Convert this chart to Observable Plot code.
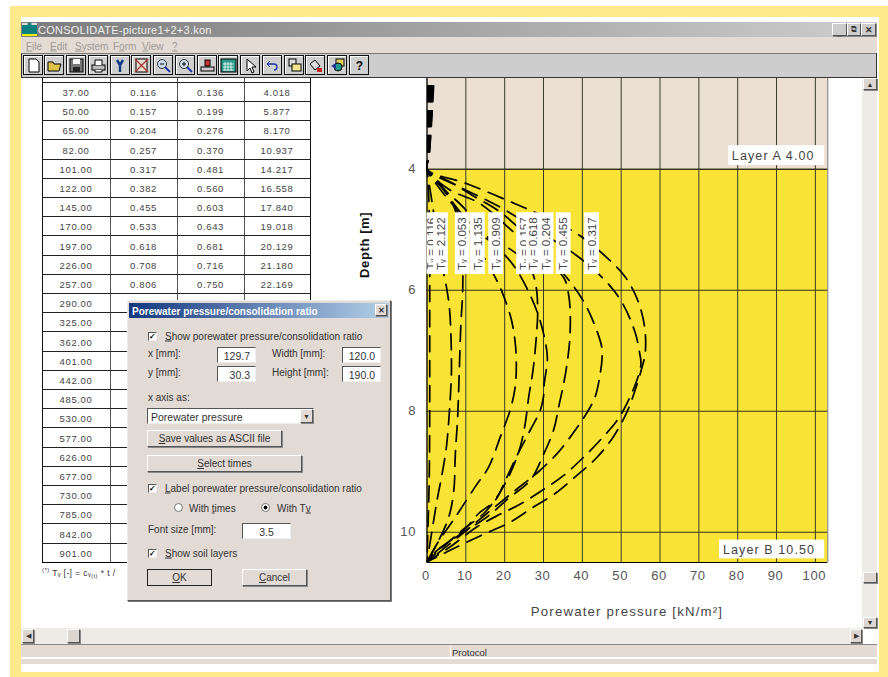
<!DOCTYPE html>
<html><head><meta charset="utf-8">
<script src="https://cdn.jsdelivr.net/npm/d3@7"></script>
<script src="https://cdn.jsdelivr.net/npm/@observablehq/plot@0.6"></script>
<style>
html,body{margin:0;padding:0;background:#fff;width:888px;height:677px;overflow:hidden;font-family:"Liberation Sans",Arial,sans-serif}
.a{position:absolute;box-sizing:border-box;white-space:nowrap}
.t{position:absolute;white-space:nowrap;font-size:10px;color:#333;transform:translateY(-50%)}
.btn{position:absolute;box-sizing:border-box;background:#e2dad4;border:1px solid;border-color:#fff #555 #555 #fff;box-shadow:1px 1px 0 #888;font-size:10px;color:#333;text-align:center;display:flex;align-items:center;justify-content:center}
.inp{position:absolute;box-sizing:border-box;background:#fff;border:1px solid;border-color:#555 #eee #eee #555;font-size:10.5px;color:#333;text-align:right;padding:2px 5px 0 0}
.cb{position:absolute;box-sizing:border-box;width:9px;height:9px;background:#fff;border:1px solid;border-color:#555 #eee #eee #555;font-size:8px;line-height:7px;text-align:center;color:#000;font-weight:bold}
.tool{position:absolute;top:55px;width:20px;height:20px;box-sizing:border-box;background:#cfcfcf;border:1px solid #111;box-shadow:inset 1px 1px 0 #fff}
.tool svg{position:absolute;left:1px;top:1px}
.cell{position:absolute;font-size:9.5px;letter-spacing:.65px;color:#444;text-align:center;transform:translateY(-50%)}
.chart{position:absolute;left:0;top:0;background:transparent;overflow:visible}
.chart text{letter-spacing:.6px}
.chart g[font-size="11.5"] text{letter-spacing:0}
.chart g[font-size="12.5"] text{letter-spacing:1.1px}
.chart g[font-size="13.2"] text{letter-spacing:1.2px}
u{text-decoration:underline}
</style></head><body>
<div id="root"></div>
<script>
// ---------- table values ----------
const times = [37,50,65,82,101,122,145,170,197,226,257,290,325,362,401,442,485,530,577,626,677,730,785,842,901];
const tvValues = [0.116,0.157,0.204,0.257,0.317,0.382,0.455,0.533,0.618,0.708,0.806];
const consolidation = [0.136,0.199,0.276,0.370,0.481,0.560,0.603,0.643,0.681,0.716,0.750];
const settlement = [4.018,5.877,8.170,10.937,14.217,16.558,17.840,19.018,20.129,21.180,22.169];

// ---------- chart: isochrones as [pressure kN/m², depth m] ----------
const isoA = [[0.2,2.62],[0.2,3.2],[0.1,3.8],[0,4],[0.1,4.1],[0.4,4.38],[0.7,5.2],[0.7,6],[0.7,7],[0.7,8],[0.6,9],[0.4,9.6],[0.2,10],[0,10.49]];
const isoB = [[0.4,2.62],[0.3,3.2],[0.1,3.8],[0,4],[0.9,4.38],[1.7,4.71],[3.4,5.43],[5.1,5.98],[5.8,6.31],[6.2,6.81],[6.3,7.3],[6.2,7.54],[5.8,7.98],[5,8.59],[3.9,9.03],[2.6,9.47],[1.3,9.97],[0,10.49]];
const isoC = [[0.6,2.62],[0.4,3.2],[0.2,3.8],[0,4],[3,4.21],[7.3,4.68],[9,5.32],[9.2,5.98],[8.7,6.59],[8.3,7.36],[7.9,8.09],[7.3,8.7],[6.9,9.31],[5.6,9.75],[2.6,10.19],[0,10.49]];
const isoD = [[0.8,2.62],[0.6,3.2],[0.3,3.8],[0,4],[3.4,4.33],[7.7,4.68],[12.9,5.26],[18,5.84],[19.7,6.09],[21.7,6.48],[22.7,6.86],[23,7.2],[22.7,7.6],[21.4,7.98],[18.9,8.42],[15.9,8.92],[12.4,9.25],[7.3,9.75],[2.6,10.19],[0,10.49]];
const isoE = [[1,2.62],[0.7,3.2],[0.3,3.8],[0,4],[3.4,4.27],[8.6,4.71],[15.4,5.15],[21.4,5.32],[26.2,5.59],[27.9,5.87],[28.5,6.31],[28.1,6.81],[27.3,7.32],[26.2,7.76],[25.3,8.2],[24,8.59],[21.4,9.03],[18,9.42],[14.6,9.69],[9.4,9.95],[4,10.25],[0,10.49]];
const isoF = [[1.1,2.62],[0.8,3.2],[0.4,3.8],[0,4],[4.7,4.35],[9.4,4.63],[15.4,5.1],[22.3,5.59],[26.2,6.03],[28.7,6.42],[30.5,6.86],[31,7.14],[30.2,7.54],[30,7.76],[29.2,7.98],[26.6,8.31],[23.2,8.73],[20.2,9.14],[17.6,9.47],[13.3,9.69],[9.4,9.97],[1.7,10.35],[0,10.49]];
const isoG = [[1.3,2.62],[0.9,3.2],[0.4,3.8],[0,4],[5.6,4.33],[13.7,4.57],[22.3,5.04],[29.2,5.43],[35.2,5.79],[36.5,6.09],[36.9,6.42],[36.7,6.86],[36,7.24],[35.2,7.54],[34.1,7.87],[32.6,8.31],[29.9,8.73],[26.6,9.14],[21,9.44],[15.4,9.75],[9.4,10],[2.6,10.3],[0,10.49]];
const isoH = [[1.4,2.62],[1,3.2],[0.4,3.8],[0,4],[6,4.21],[12.4,4.46],[18.9,4.71],[27.5,5.21],[35.6,5.76],[39.9,6.14],[42.9,6.53],[45,6.94],[45.1,7.1],[44.6,7.38],[43.3,7.76],[41.6,7.98],[38.2,8.31],[33.5,8.7],[28.7,9],[22.7,9.31],[15.4,9.69],[8.6,10.05],[0,10.49]];
const isoI = [[1.6,2.62],[1.1,3.2],[0.5,3.8],[0,4],[7.7,4.27],[18.9,4.63],[29.2,5.04],[38.6,5.43],[45.9,5.84],[50.2,6.2],[53.6,6.7],[54.7,7.02],[55.1,7.21],[54.2,7.46],[52.3,7.76],[49.3,8.12],[45,8.45],[40.3,8.76],[35.2,9.06],[29.6,9.31],[23.6,9.55],[18.9,9.7],[12.9,9.91],[6,10.24],[0,10.49]];
const isoJ = [[1.7,2.62],[1.2,3.2],[0.5,3.8],[0,4],[10.3,4.24],[22.7,4.57],[33.5,4.88],[39.9,5.12],[46.3,5.46],[50.8,5.76],[54.1,6.14],[56,6.59],[56.2,7.03],[55.3,7.29],[53.6,7.65],[51.5,8.01],[48,8.42],[43.8,8.76],[38.6,9.06],[33,9.36],[27.5,9.58],[21.5,9.83],[15.4,10.01],[9.4,10.19],[0,10.49]];
const isochrones = [isoA,isoB,isoC,isoD,isoE,isoF,isoG,isoH,isoI,isoJ];

// curve labels, in drawing order
const labelTexts = ["0.116","2.122","0.053","1.135","0.909","0.157","0.618","0.204","0.455","0.317"];
const labelCentres = [1.0,3.6,9.2,13.1,17.8,25,27.5,30.8,35.2,42.5];

const layerNames = ["Layer A 4.00","Layer B 10.50"];
const layerTops = [2.5,4];
const layerBottoms = [4,10.5];
const layerFills = ["#ebded3","#f9e335"];
const xTicks = [0,10,20,30,40,50,60,70,80,90,100];
const yTicks = [4,6,8,10];

const labelDepth = [4.72,5.74];
const xy = d=>d[0], yy = d=>d[1];
const ink="#555";

const labelMarks = labelTexts.flatMap((s,i)=>[
  Plot.rect([i],{x1:()=>Math.max(0,labelCentres[i]-1.9),x2:()=>labelCentres[i]+1.9,y1:()=>labelDepth[0],y2:()=>labelDepth[1],fill:"#fff"}),
  Plot.text([i],{x:()=>labelCentres[i],y:()=>5.23,text:()=>"T\u1D65 = "+s,rotate:-90,fontSize:11.5,fill:"#444",textAnchor:"middle",clip:true})
]);

const chart = Plot.plot({
  width:888,height:677,
  marginLeft:426.5,marginRight:60.7,marginTop:78,marginBottom:115,
  className:"chart",
  style:{background:"transparent",fontFamily:"'Liberation Sans',Arial,sans-serif"},
  x:{domain:[0,103.2],range:[426.5,827.3]},
  y:{domain:[2.5,10.5],range:[78,562]},
  marks:[
    Plot.rect(layerTops,{x1:()=>0,x2:()=>103.2,y1:d=>d,y2:(d,i)=>layerBottoms[i],fill:(d,i)=>layerFills[i]}),
    Plot.ruleX(xTicks,{stroke:"#3a3a2c",strokeWidth:1}),
    Plot.ruleX([103.2],{stroke:"#777",strokeWidth:1}),
    Plot.ruleY(yTicks,{stroke:"#33321f",strokeWidth:1}),
    Plot.ruleY([10.5],{stroke:"#000",strokeWidth:1.2}),
    Plot.ruleX([0],{stroke:"#111",strokeWidth:1}),
    Plot.ruleY([4],{stroke:"#222",strokeWidth:1}),
    ...isochrones.map(c=>Plot.line(c,{x:xy,y:yy,stroke:"#000",strokeWidth:1.7,strokeDasharray:"16,9",curve:"catmull-rom",clip:true})),
    ...labelMarks,
    Plot.rect([0],{x1:()=>77.7,x2:()=>102.4,y1:()=>3.61,y2:()=>3.94,fill:"#fff"}),
    Plot.text([0],{x:()=>78.5,y:()=>3.78,text:()=>layerNames[0],textAnchor:"start",fontSize:12.5,fill:"#444"}),
    Plot.rect([0],{x1:()=>75.3,x2:()=>102.4,y1:()=>10.13,y2:()=>10.44,fill:"#fff"}),
    Plot.text([0],{x:()=>76.2,y:()=>10.29,text:()=>layerNames[1],textAnchor:"start",fontSize:12.5,fill:"#444"}),
    Plot.axisX({ticks:xTicks,tickSize:0,tickPadding:8,fontSize:13,fill:ink,label:null,dx:-1}),
    Plot.axisY({ticks:yTicks,tickSize:0,tickPadding:11,fontSize:13,fill:ink,label:null,anchor:"left"}),
    Plot.text([0],{x:()=>51.5,y:()=>10.5,dy:49,text:()=>"Porewater pressure [kN/m²]",fontSize:13.2,fill:"#444"}),
    Plot.text([0],{x:()=>0,y:()=>5.25,dx:-62.5,rotate:-90,text:()=>"Depth [m]",fontSize:13,fontWeight:"bold",fill:"#111"})
  ]
});

// ---------- window chrome ----------
const root=document.getElementById("root");
function box(l,t,w,h,css,html){const e=document.createElement("div");e.className="a";e.style.cssText=`left:${l}px;top:${t}px;width:${w}px;height:${h}px;${css||""}`;if(html)e.innerHTML=html;root.appendChild(e);return e;}
function text(l,cy,s,css){const e=document.createElement("div");e.className="t";e.style.cssText=`left:${l}px;top:${cy}px;${css||""}`;e.innerHTML=s;root.appendChild(e);return e;}
function button(l,t,w,h,s,css){const e=document.createElement("div");e.className="btn";e.style.cssText=`left:${l}px;top:${t}px;width:${w}px;height:${h}px;${css||""}`;e.innerHTML=s;root.appendChild(e);return e;}
function input(l,t,w,h,s,css){const e=document.createElement("div");e.className="inp";e.style.cssText=`left:${l}px;top:${t}px;width:${w}px;height:${h}px;${css||""}`;e.textContent=s;root.appendChild(e);}
function check(l,cy){const e=document.createElement("div");e.className="cb";e.style.cssText=`left:${l}px;top:${cy-4.5}px`;e.textContent="✓";root.appendChild(e);}

const frame="#fbe98c";
box(10,6,878,671,`background:${frame}`);
box(21,17,858,655,"background:#fff");

// table (behind the chart layer and the dialog)
const colX=[42,110,177,244,310];
const rowTop=82.3,rowH=19.2,tableBottom=rowTop+rowH*times.length;
colX.forEach((x,i)=>box(x-.5,78,i==4?1.6:1,i==4?222:tableBottom-78,`background:${i==0||i==4?"#111":"#555"}`));
for(let i=0;i<=times.length;i++){box(42,rowTop+i*rowH-.5,268,1,`background:${i==times.length?"#000":"#222"}`);}
times.forEach((tm,i)=>{
  const cy=rowTop+rowH*(i+.5);
  const vals=[tm.toFixed(2),i<tvValues.length?tvValues[i].toFixed(3):"",i<consolidation.length?consolidation[i].toFixed(3):"",i<settlement.length?settlement[i].toFixed(3):""];
  vals.forEach((v,j)=>{const e=document.createElement("div");e.className="cell";e.style.cssText=`left:${colX[j]}px;width:${colX[j+1]-colX[j]}px;top:${cy}px`;e.textContent=v;root.appendChild(e);});
});
text(42,573,"<sup style='font-size:6px'>(*)</sup> T\u1D65 [-] = c\u1D65<sub style='font-size:6px'>(t)</sub> * t /","font-size:8.5px;letter-spacing:.4px");

root.appendChild(chart);

// title bar, menu, toolbar
box(21,22,856,15,"background:linear-gradient(90deg,#7c7c7c,#cdcdcd)");
box(22,23,15,13,"background:#0d7f7f;border-top:2px dashed #ddd;border-bottom:2px solid #ee0");
text(38,29.5,"CONSOLIDATE-picture1+2+3.kon","color:#eeeeee;font-size:11px;letter-spacing:.25px");
button(832,23,15,13,"<span style='margin-top:6px;font-weight:bold;font-size:9px'>_</span>","background:#ccc");
button(847,23,14,13,"<span style='font-size:8px'>&#x29C9;</span>","background:#ccc");
button(861,23,15,13,"<b style='font-size:9px'>✕</b>","background:#ccc");
box(21,37,856,16,"background:#e4dbd5");
[["<u>F</u>ile",26],["<u>E</u>dit",50],["<u>S</u>ystem",75],["F<u>o</u>rm",113],["<u>V</u>iew",142],["<u>?</u>",172]].forEach(([s,x])=>text(x,45.5,s,"font-size:10px;color:#a09a96"));
box(21,53,856,24.5,"background:#cdcdcd;border:1px solid #333;border-top-color:#777");

const ic={
 doc:"<path d='M4 2h7l3 3v10H4z' fill='#fff' stroke='#000'/>",
 open:"<path d='M2 14V5h5l1 2h7l-2 7z' fill='#e0c24a' stroke='#000'/>",
 save:"<rect x='2' y='2' width='13' height='13' fill='#777' stroke='#000'/><rect x='5' y='2' width='7' height='5' fill='#fff'/><rect x='5' y='10' width='7' height='5' fill='#222'/>",
 print:"<rect x='2' y='8' width='13' height='5' fill='#bbb' stroke='#000'/><path d='M5 8V3h7v5M5 13v2h7v-2' fill='#fff' stroke='#000'/>",
 y:"<path d='M5 3l3 5 3-5M8 8v7' fill='none' stroke='#103a8a' stroke-width='2.5'/>",
 cross:"<rect x='3' y='2' width='11' height='13' fill='#e8dcd0' stroke='#000'/><path d='M2 2l13 13M15 2L2 15' stroke='#a33' stroke-width='1.3'/>",
 zm:"<circle cx='7' cy='7' r='4.5' fill='#cde' stroke='#333'/><path d='M10 10l5 5' stroke='#23a' stroke-width='2'/><path d='M5 7h4' stroke='#000'/>",
 zp:"<circle cx='7' cy='7' r='4.5' fill='#cde' stroke='#333'/><path d='M10 10l5 5' stroke='#23a' stroke-width='2'/><path d='M5 7h4M7 5v4' stroke='#000'/>",
 stamp:"<rect x='6' y='3' width='5' height='6' fill='#c33' stroke='#000'/><rect x='2' y='10' width='13' height='4' fill='#ccc' stroke='#000'/>",
 calc:"<rect x='1' y='2' width='15' height='13' fill='#2a9a8a' stroke='#000'/><path d='M3 7h11M3 10h11M3 13h11M5 5v9M8 5v9M11 5v9' stroke='#fff' stroke-width='.8'/>",
 arrow:"<path d='M5 2v12l3-3 2 5 2-1-2-5h4z' fill='#fff' stroke='#000'/>",
 undo:"<path d='M4 7h6c4 0 4 6 0 6' fill='none' stroke='#23a' stroke-width='1.3'/><path d='M6 4L3 7l3 3' fill='none' stroke='#23a'/>",
 clip:"<rect x='3' y='2' width='7' height='7' fill='#ddd' stroke='#000'/><rect x='6' y='7' width='9' height='7' fill='#f4e68c' stroke='#000'/>",
 paint:"<path d='M3 7l5-4 5 6-5 4z' fill='#ddd' stroke='#000'/><rect x='10' y='11' width='5' height='4' fill='#c22'/>",
 shapes:"<rect x='7' y='2' width='8' height='7' fill='#e6d060' stroke='#000'/><circle cx='9' cy='10' r='4' fill='#1a9a8a' stroke='#000'/><path d='M2 9l5-3v6z' fill='#239'/>",
 q:"<text x='8.5' y='13' font-size='12' font-weight='bold' text-anchor='middle' fill='#000' font-family='Liberation Sans'>?</text>"
};
["doc","open","save","print","y","cross","zm","zp","stamp","calc","arrow","undo","clip","paint","shapes","q"].forEach((k,i)=>{
  const b=document.createElement("div");b.className="tool";b.style.left=(22.5+i*21.75)+"px";
  b.innerHTML=`<svg width="17" height="17" viewBox="0 0 17 17">${ic[k]}</svg>`;root.appendChild(b);
});

// scrollbars and status bar
const track="#eeeae6";
box(862,78,15,550,`background:${track}`);
button(863,78,14,12,"<span style='font-size:7px'>▲</span>","background:#ddd6d0");
button(863,572,14,11,"","background:#ddd6d0");
button(863,617,14,11,"<span style='font-size:7px'>▼</span>","background:#ddd6d0");
box(21,628,841,17,`background:${track}`);
button(22,629,12,14,"<span style='font-size:7px'>◀</span>","background:#ddd6d0");
button(67,629,13,14,"","background:#ddd6d0");
button(850,629,12,14,"<span style='font-size:7px'>▶</span>","background:#ddd6d0");
box(21,644,856,14,"background:#e4dbd5;border-top:1px solid #888;border-bottom:1px solid #fff");
box(449.5,645,1,13,"background:#fff");
text(452,651.5,"Protocol","font-size:9.5px");
box(21,659,856,5,"background:#e4dbd5");

// dialog
box(127,300,264,301,"background:#e2dad4;border:1px solid #eee;border-right-color:#555;border-bottom-color:#555;box-shadow:1px 1px 0 #777");
box(129,303,260,15,"background:linear-gradient(90deg,#14377f,#b4d0e8)");
text(132,310.5,"Porewater pressure/consolidation ratio","color:#fff;font-weight:bold;font-size:10px");
button(375,304,12,12,"<b style='font-size:8px'>✕</b>");
check(148,336);text(165,336,"<u>S</u>how porewater pressure/consolidation ratio");
text(148,353,"x [mm]:");input(217,347,39,16,"129.7");
text(272,353,"Width [mm]:");input(342,347,39,16,"120.0");
text(148,372,"y [mm]:");input(217,366,39,16,"30.3");
text(272,372,"Height [mm]:");input(342,366,39,16,"190.0");
text(148,397,"x axis as:");
input(147,408,167,16,"Porewater pressure","text-align:left;padding:2px 0 0 3px");
button(300,409,13,14,"<span style='font-size:7px'>▼</span>");
button(147,430,135,17,"<u>S</u>ave values as ASCII file");
button(147,455,155,17,"<u>S</u>elect times");
check(148,488);text(165,488,"<u>L</u>abel porewater pressure/consolidation ratio");
box(174,503,9,9,"background:#fff;border:1px solid #777;border-radius:50%");
text(189,507.5,"With <u>t</u>imes");
box(261,503,9,9,"background:radial-gradient(circle,#000 0 1.8px,#fff 2.2px);border:1px solid #777;border-radius:50%");
text(277,507.5,"With T<u>v</u>");
text(148,529,"Font size [mm]:");input(242,523,49,16,"3.5","text-align:center;padding:2px 0 0 0");
check(148,553);text(165,553,"<u>S</u>how soil layers");
button(147,569,65,17,"<u>O</u>K","border:1.5px solid #222;box-shadow:none");
button(242,569,65,17,"<u>C</u>ancel");
</script>
</body></html>
